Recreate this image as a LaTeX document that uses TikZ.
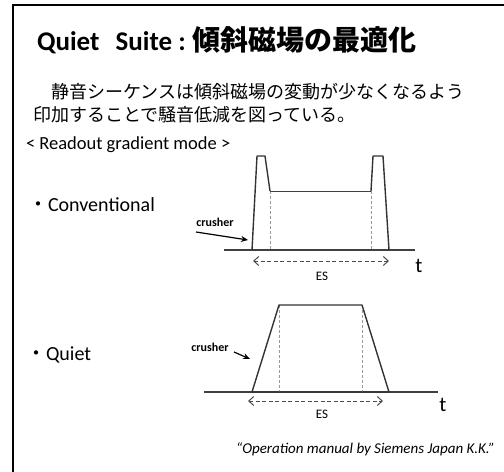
\documentclass[tikz,border=0pt]{standalone}
\usepackage{fontspec}
\setmainfont{Carlito}
\newfontfamily\jp{Noto Sans CJK JP}
\usetikzlibrary{arrows.meta}
\tikzset{
  txt/.style={inner sep=0pt, outer sep=0pt},
  wave/.style={draw=black!80, line width=1.4bp, line join=round},
  flat/.style={draw=black!75, line width=0.9bp},
  axis/.style={draw=black!75, line width=1.3bp},
  guide/.style={draw=black!40, line width=0.9bp, dash pattern=on 3bp off 2bp},
  esarrow/.style={draw=black!70, line width=1bp, dash pattern=on 4bp off 2.5bp, {Straight Barb[length=5bp,width=9bp]}-{Straight Barb[length=5bp,width=9bp]}},
  crarrow/.style={draw=black, line width=1.2bp, -{Stealth[length=7bp,width=6bp]}},
  frame/.style={draw=black, line width=2.2bp}
}
\begin{document}
\begin{tikzpicture}[x=1bp,y=-1bp]
\useasboundingbox (0,0) rectangle (504,472);
% frame
\draw[frame] (504,5) -- (13,5) -- (13,472);
% title
\node[txt, anchor=west] (title) at (37,40) {\fontsize{27bp}{32bp}\selectfont\bfseries Quiet\hspace{0.6em}Suite :\hspace{0.25em}{\jp\fontsize{28bp}{32bp}\selectfont 傾斜磁場の最適化}};
% body
\node[txt, anchor=west] (body1) at (33,92) {\fontsize{18bp}{22bp}\selectfont\jp 　静音シーケンスは傾斜磁場の変動が少なくなるよう};
\node[txt, anchor=west] (body2) at (33,115) {\fontsize{18bp}{22bp}\selectfont\jp 印加することで騒音低減を図っている。};
% mode label
\node[txt, anchor=west] (mode) at (26,145) {\fontsize{18.5bp}{22bp}\selectfont < Readout gradient mode >};
\node[txt, anchor=west] (conv) at (28,205) {\fontsize{20bp}{24bp}\selectfont{\jp ・}Conventional};
\node[txt, anchor=west] (quiet) at (26,355) {\fontsize{20bp}{24bp}\selectfont{\jp ・}Quiet};

% ---- Conventional diagram
\coordinate (c0) at (224,250);
\coordinate (c9) at (415,250);
\coordinate (c1) at (252,250);
\coordinate (c2) at (257,156);
\coordinate (c3) at (265,156);
\coordinate (c4) at (270,191);
\coordinate (c5) at (371,191);
\coordinate (c6) at (373,156);
\coordinate (c7) at (383,156);
\coordinate (c8) at (389,250);
\draw[axis] (c0) -- (c9);
\draw[guide] (c4) -- (c4 |- c0);
\draw[guide] (c5) -- (c5 |- c0);
\draw[wave] (c1) -- (c2) -- (c3) -- (c4);
\draw[flat] (c4) -- (c5);
\draw[wave] (c5) -- (c6) -- (c7) -- (c8);
\coordinate (ces1) at (253,261);
\coordinate (ces2) at (389,261);
\draw[esarrow] (ces1) -- (ces2);
\node[txt] (esc) at (322,276) {\fontsize{13bp}{15bp}\selectfont ES};
\node[txt] (tc) at (419,266) {\fontsize{21bp}{24bp}\selectfont t};
\node[txt] (crc) at (215,222) {\fontsize{12bp}{14bp}\selectfont\bfseries crusher};
\coordinate (crcs) at (196,232);
\coordinate (crce) at (248,240);
\draw[crarrow] (crcs) -- (crce);

% ---- Quiet diagram
\coordinate (q0) at (204,392);
\coordinate (q9) at (438,392);
\coordinate (q1) at (252,392);
\coordinate (q2) at (279,305);
\coordinate (q3) at (362,305);
\coordinate (q4) at (389,392);
\draw[axis] (q0) -- (q9);
\draw[guide] (q2) -- (q2 |- q0);
\draw[guide] (q3) -- (q3 |- q0);
\draw[wave] (q1) -- (q2) -- (q3) -- (q4) -- cycle;
\coordinate (qes1) at (248,401);
\coordinate (qes2) at (383,401);
\draw[esarrow] (qes1) -- (qes2);
\node[txt] (esq) at (322,414) {\fontsize{13bp}{15bp}\selectfont ES};
\node[txt] (tq) at (443,405) {\fontsize{21bp}{24bp}\selectfont t};
\node[txt] (crq) at (210,347) {\fontsize{12bp}{14bp}\selectfont\bfseries crusher};
\coordinate (crqs) at (234,352);
\coordinate (crqe) at (250,359);
\draw[crarrow] (crqs) -- (crqe);

% citation
\node[txt, anchor=east] (cite) at (495,449) {\fontsize{15bp}{18bp}\selectfont\itshape “Operation manual by Siemens Japan K.K.”};
\end{tikzpicture}
\end{document}
